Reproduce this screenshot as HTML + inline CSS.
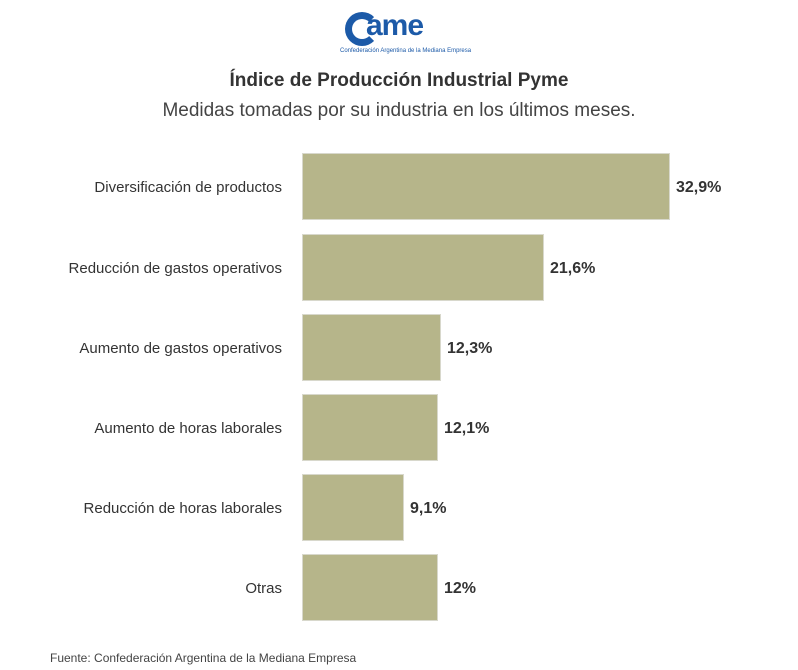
<!DOCTYPE html>
<html><head><meta charset="utf-8"><style>
body{margin:0;width:798px;height:670px;background:#fff;font-family:"Liberation Sans",sans-serif;position:relative;overflow:hidden;color:#333}
.b{position:absolute;left:302px;height:67px;background:#b6b58a;border:1px solid #d8d8cc;box-sizing:border-box}
.l{position:absolute;right:516px;font-size:15px;color:#333;white-space:nowrap}
.v{position:absolute;font-size:16px;font-weight:bold;color:#333}
</style></head><body>
<div style="position:absolute;left:345px;top:12px;width:34px;height:34px;border:7px solid #1c5aa8;border-radius:50%;border-right-color:transparent;box-sizing:border-box"></div>
<div style="position:absolute;left:366px;top:9px;font-size:30px;font-weight:bold;color:#1c5aa8;letter-spacing:-1px">ame</div>
<div style="position:absolute;left:340px;top:48px;font-size:6px;color:#1c5aa8">Confederación Argentina de la Mediana Empresa</div>
<div style="position:absolute;left:0;width:798px;top:70px;text-align:center;font-size:19px;font-weight:bold;color:#333">Índice de Producción Industrial Pyme</div>
<div style="position:absolute;left:0;width:798px;top:100px;text-align:center;font-size:19px;color:#444">Medidas tomadas por su industria en los últimos meses.</div>
<div class="b" style="top:153px;width:368px"></div><div class="l" style="top:179px">Diversificación de productos</div><div class="v" style="left:676px;top:179px">32,9%</div>
<div class="b" style="top:234px;width:242px"></div><div class="l" style="top:260px">Reducción de gastos operativos</div><div class="v" style="left:550px;top:260px">21,6%</div>
<div class="b" style="top:314px;width:139px"></div><div class="l" style="top:340px">Aumento de gastos operativos</div><div class="v" style="left:447px;top:340px">12,3%</div>
<div class="b" style="top:394px;width:136px"></div><div class="l" style="top:420px">Aumento de horas laborales</div><div class="v" style="left:444px;top:420px">12,1%</div>
<div class="b" style="top:474px;width:102px"></div><div class="l" style="top:500px">Reducción de horas laborales</div><div class="v" style="left:410px;top:500px">9,1%</div>
<div class="b" style="top:554px;width:136px"></div><div class="l" style="top:580px">Otras</div><div class="v" style="left:444px;top:580px">12%</div>
<div style="position:absolute;left:50px;top:651px;font-size:12px;color:#444">Fuente: Confederación Argentina de la Mediana Empresa</div>
</body></html>
